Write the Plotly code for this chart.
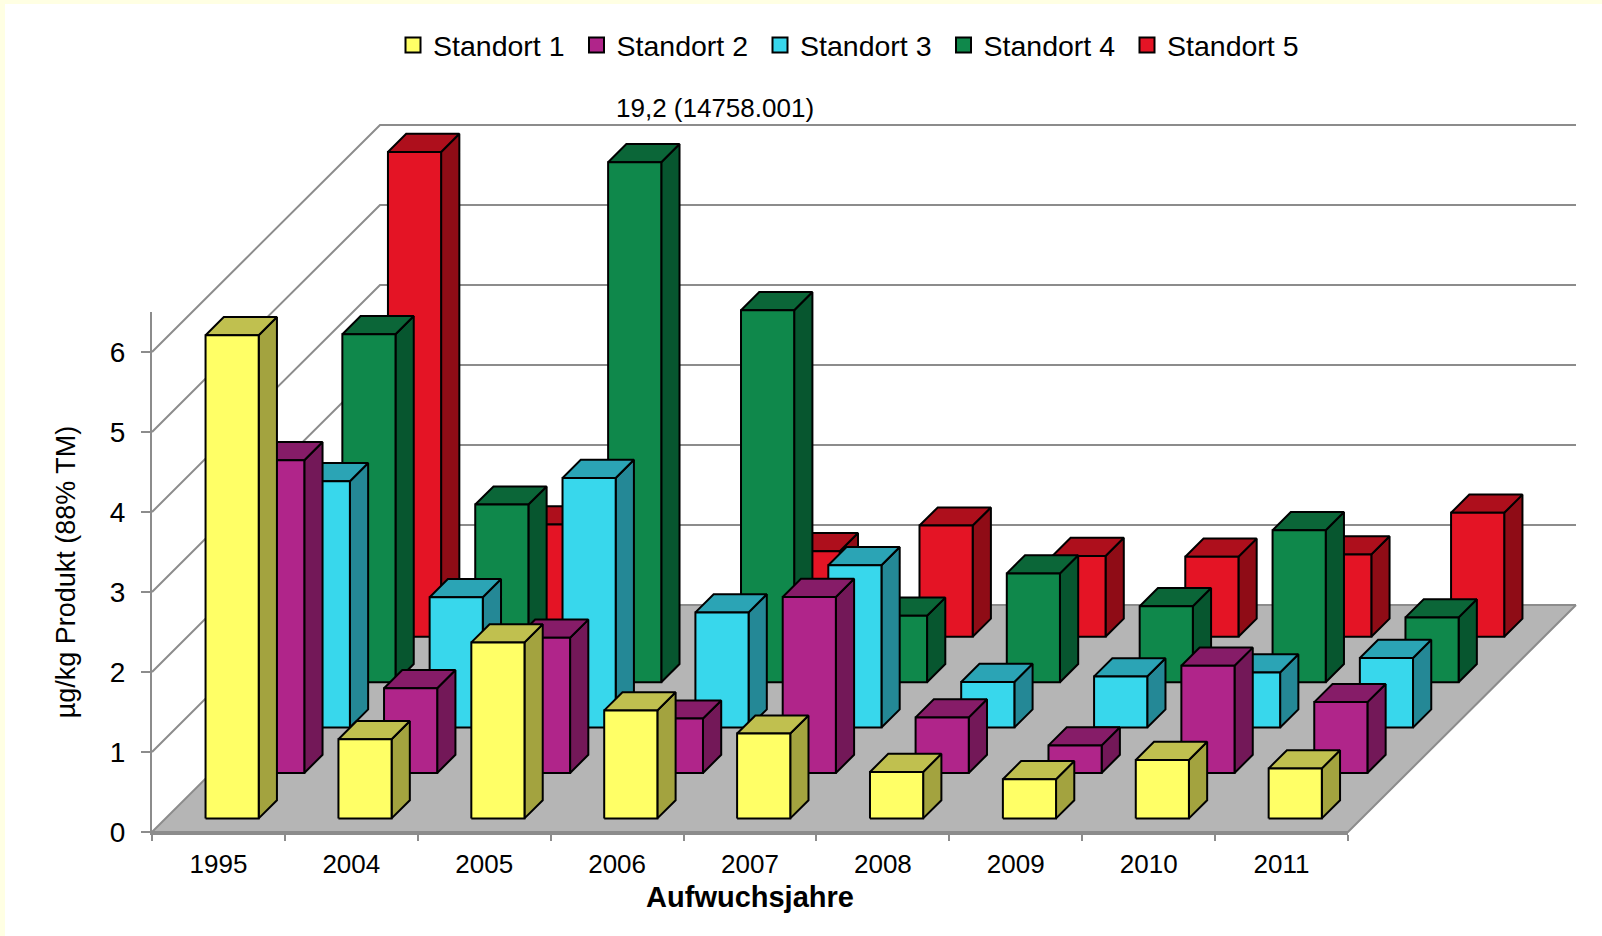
import plotly.graph_objects as go

YEARS = ["1995", "2004", "2005", "2006", "2007", "2008", "2009", "2010", "2011"]
SERIES = ["Standort 1", "Standort 2", "Standort 3", "Standort 4", "Standort 5"]

standort_1 = [6.04, 0.99, 2.20, 1.35, 1.06, 0.58, 0.49, 0.73, 0.625]
standort_2 = [3.91, 1.06, 1.69, 0.68, 2.20, 0.695, 0.345, 1.34, 0.886]
standort_3 = [3.08, 1.63, 3.12, 1.44, 2.03, 0.57, 0.64, 0.69, 0.87]
standort_4 = [4.35, 2.22, 19.2, 4.65, 0.83, 1.36, 0.95, 1.90, 0.81]
standort_5 = [6.06, 1.405, None, 1.07, 1.39, 1.01, 1.00, 1.03, 1.55]
VALUES = [standort_1, standort_2, standort_3, standort_4, standort_5]

# front, side and top face colours of each series
FRONT = ["#FFFF66", "#B0258A", "#38D7EC", "#0F884B", "#E41425"]
SIDE = ["#A3A33F", "#731858", "#248896", "#07562F", "#8F0C16"]
TOP = ["#C0C04F", "#861C68", "#2BA4B5", "#0B6638", "#AE0F1C"]

AXIS_MAX = 6.5
Y_TICKS = [0, 1, 2, 3, 4, 5, 6]
GREY = "#8C8C8C"
FONT = "Liberation Sans, Arial, sans-serif"

W, H = 1602, 936
LEFT, RIGHT, BOTTOM, TOP_PX = 152, 1348, 832, 312
CAT_PX = (RIGHT - LEFT) / len(YEARS)
VAL_PX = (BOTTOM - TOP_PX) / AXIS_MAX

# oblique projection: one depth row moves a point right and up on screen
ROW_X = 45.6 / CAT_PX
ROW_Y = 45.4 / VAL_PX
ROWS = len(SERIES)
BAR_LO, BAR_HI = 0.3, 0.7


def project(cat, row, val):
    return cat + row * ROW_X, val + row * ROW_Y


def polygon(corners):
    pts = [project(*c) for c in corners]
    pts.append(pts[0])
    return [p[0] for p in pts] + [None], [p[1] for p in pts] + [None]


def face_trace(faces, fill, line, width=2.0):
    xs, ys = [], []
    for f in faces:
        px, py = polygon(f)
        xs += px
        ys += py
    return go.Scatter(x=xs, y=ys, mode="lines", fill="toself", fillcolor=fill,
                      line=dict(color=line, width=width), showlegend=False,
                      hoverinfo="skip")


fig = go.Figure()

# floor
n = len(YEARS)
fig.add_trace(face_trace([[(0, 0, 0), (n, 0, 0), (n, ROWS, 0), (0, ROWS, 0)]], "#B5B5B5", "#BDBDBD", 1))

# gridlines on the left and back walls
for v in Y_TICKS:
    gx, gy = zip(*[project(0, 0, v), project(0, ROWS, v), project(n, ROWS, v)])
    fig.add_trace(go.Scatter(x=gx, y=gy, mode="lines", line=dict(color=GREY, width=2),
                             showlegend=False, hoverinfo="skip"))

# right and front floor edges
ex, ey = zip(*[project(n, ROWS, 0), project(n, 0, 0), project(0, 0, 0)])
fig.add_trace(go.Scatter(x=ex, y=ey, mode="lines", line=dict(color=GREY, width=2),
                         showlegend=False, hoverinfo="skip"))

# bars, rear row first so nearer rows paint over it; tall bars stop at the axis maximum
for k in reversed(range(ROWS)):
    sides, tops, fronts = [], [], []
    f, b = k + BAR_LO, k + BAR_HI
    for i, raw in enumerate(VALUES[k]):
        if raw is None:
            continue
        v = min(raw, AXIS_MAX)
        l, r = i + BAR_LO, i + BAR_HI
        sides.append([(r, f, 0), (r, b, 0), (r, b, v), (r, f, v)])
        tops.append([(l, f, v), (r, f, v), (r, b, v), (l, b, v)])
        fronts.append([(l, f, 0), (r, f, 0), (r, f, v), (l, f, v)])
    fig.add_trace(face_trace(sides, SIDE[k], "#000000"))
    fig.add_trace(face_trace(tops, TOP[k], "#000000"))
    fig.add_trace(face_trace(fronts, FRONT[k], "#000000"))

# legend entries live on the axis subplot that carries the ticks
for k, name in enumerate(SERIES):
    fig.add_trace(go.Scatter(x=[None], y=[None], mode="markers", name=name, xaxis="x2", yaxis="y2",
                             marker=dict(symbol="square", size=15, color=FRONT[k],
                                         line=dict(color="#000000", width=2))))

fig.update_layout(
    width=W, height=H,
    margin=dict(l=0, r=0, t=0, b=0),
    paper_bgcolor="#FFFFE3",
    plot_bgcolor="rgba(0,0,0,0)",
    font=dict(family=FONT, color="#000000"),
    hovermode=False,
    # page-wide hidden axes in category and value units, so depth can run past the ticked span
    xaxis=dict(domain=[0, 1], range=[-LEFT / CAT_PX, (W - LEFT) / CAT_PX], visible=False),
    yaxis=dict(domain=[0, 1], range=[(BOTTOM - H) / VAL_PX, BOTTOM / VAL_PX], visible=False),
    xaxis2=dict(
        domain=[LEFT / W, RIGHT / W], range=[0, n], anchor="y2", showgrid=False, zeroline=False,
        showline=True, linecolor=GREY, linewidth=3,
        tickmode="array", tickvals=[i + 0.5 for i in range(n)], ticktext=YEARS,
        ticks="", tickfont=dict(size=26), ticklabelstandoff=7,
        minor=dict(tickmode="array", tickvals=list(range(n + 1)), ticks="outside",
                   ticklen=6, tickcolor=GREY, tickwidth=2, showgrid=False),
        title=dict(text="<b>Aufwuchsjahre</b>", font=dict(size=29), standoff=9),
        automargin=False,
    ),
    yaxis2=dict(
        domain=[(H - BOTTOM) / H, (H - TOP_PX) / H], range=[0, AXIS_MAX], anchor="x2", showgrid=False,
        zeroline=False, showline=True, linecolor=GREY, linewidth=2,
        tickmode="array", tickvals=Y_TICKS, ticks="outside", ticklen=9, tickcolor=GREY,
        tickwidth=2, tickfont=dict(size=28), ticklabelstandoff=10,
        title=dict(text="µg/kg Produkt (88% TM)", font=dict(size=27), standoff=26),
        automargin=False,
    ),
    legend=dict(
        orientation="h", x=393 / W, xanchor="left",
        y=(H - 20) / H, yanchor="top",
        font=dict(size=28.5), bgcolor="rgba(0,0,0,0)", traceorder="normal",
        entrywidth=138.5, entrywidthmode="pixels", tracegroupgap=0,
    ),
    shapes=[dict(type="rect", xref="paper", yref="paper", layer="below",
                 x0=5 / W, x1=1, y0=0, y1=(H - 4) / H,
                 fillcolor="#FFFFFF", line=dict(width=0))],
    annotations=[dict(x=(715 - LEFT) / CAT_PX, y=(BOTTOM - 108) / VAL_PX, xref="x", yref="y",
                      text="19,2 (14758.001)", showarrow=False, font=dict(size=26),
                      xanchor="center", yanchor="middle")],
)

fig.write_html("out.html", config=dict(displayModeBar=False))
